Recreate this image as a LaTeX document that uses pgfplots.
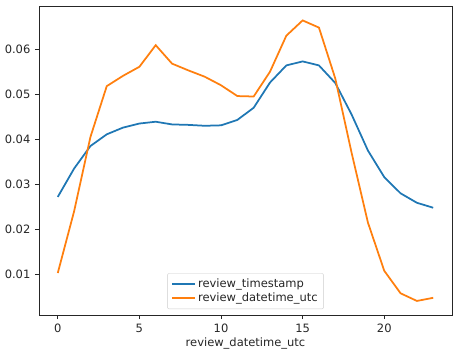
\documentclass[border=0pt]{standalone}
\usepackage{fontspec}
\setmainfont{DejaVu Sans}
\usepackage{pgfplots}
\pgfplotsset{compat=1.18}
\definecolor{mplblue}{HTML}{1F77B4}
\definecolor{mplorange}{HTML}{FF7F0E}
\newcommand{\mplfont}{\fontsize{11.5}{13.5}\selectfont}
\begin{document}
\begin{tikzpicture}
\begin{axis}[
 scale only axis, width=413pt, height=309pt,
 xmin=-1.15, xmax=24.15, ymin=0.00098, ymax=0.0696,
 xtick={0,5,10,15,20}, ytick={0.01,0.02,0.03,0.04,0.05,0.06},
 scaled y ticks=false,
 yticklabel style={/pgf/number format/fixed, /pgf/number format/precision=2, /pgf/number format/fixed zerofill},
 /pgf/number format/assume math mode=true,
 tick label style={font=\mplfont, text=black!85},
 label style={font=\mplfont, text=black!85},
 xticklabel style={yshift=-1pt},
 yticklabel style={xshift=-1pt},
 xlabel style={yshift=1pt},
 tick align=outside, tick pos=left, major tick length=4.1pt,
 tick style={black!85, line width=0.9pt},
 axis line style={line width=0.9pt, black!85},
 xlabel={review\_datetime\_utc},
 legend style={at={(0.5,0.019)}, anchor=south, draw=black!20, fill=white, fill opacity=0.8, text opacity=1, rounded corners=2pt, font=\mplfont, inner xsep=4pt, inner ysep=3.5pt, row sep=0pt, text=black!85},
 legend cell align=left,
 legend image code/.code={\draw[mark repeat=2,mark phase=2,#1] plot coordinates {(0pt,0pt) (11.5pt,0pt) (23pt,0pt)};},
]
\addplot[mplblue, line width=1.75pt] coordinates {
(0,0.0272) (1,0.0335) (2,0.0385) (3,0.0411) (4,0.0426) (5,0.0435) (6,0.0439) (7,0.0433) (8,0.0432) (9,0.0430) (10,0.0431) (11,0.0443) (12,0.0470) (13,0.0526) (14,0.0564) (15,0.0573) (16,0.0564) (17,0.0525) (18,0.0455) (19,0.0375) (20,0.0316) (21,0.0280) (22,0.0259) (23,0.0248)};
\addlegendentry{review\_timestamp}
\addplot[mplorange, line width=1.75pt] coordinates {
(0,0.0103) (1,0.0240) (2,0.0405) (3,0.0518) (4,0.0541) (5,0.0561) (6,0.0609) (7,0.0568) (8,0.0553) (9,0.0539) (10,0.0520) (11,0.0496) (12,0.0495) (13,0.0550) (14,0.0630) (15,0.0664) (16,0.0648) (17,0.0535) (18,0.0370) (19,0.0215) (20,0.0108) (21,0.0058) (22,0.0041) (23,0.0048)};
\addlegendentry{review\_datetime\_utc}
\end{axis}
\path (current axis.south west) ++(-39pt,-41pt) coordinate (bbA);
\path (current axis.north east) ++(7pt,6pt) coordinate (bbB);
\path[use as bounding box] (bbA) rectangle (bbB);
\end{tikzpicture}
\end{document}
